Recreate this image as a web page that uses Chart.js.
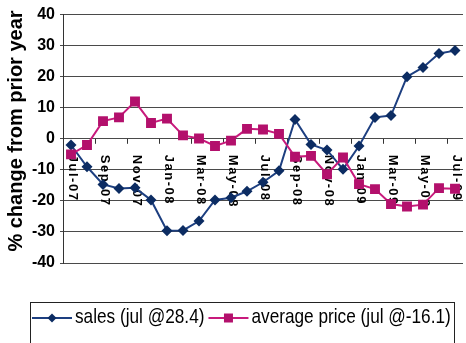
<!DOCTYPE html>
<html>
<head>
<meta charset="utf-8">
<script src="https://cdn.jsdelivr.net/npm/chart.js@4/dist/chart.umd.min.js"></script>
<style>
  html, body { margin: 0; padding: 0; background: #fff; overflow: hidden; }
  #wrap { width: 470px; height: 343px; }
</style>
</head>
<body>
<div id="wrap"><canvas id="chartSales" width="470" height="343"></canvas></div>
<script>
// months, Jul-07 .. Jul-09 (labels shown every second month)
const months = ["Jul-07", "Aug-07", "Sep-07", "Oct-07", "Nov-07", "Dec-07",
                "Jan-08", "Feb-08", "Mar-08", "Apr-08", "May-08", "Jun-08",
                "Jul-08", "Aug-08", "Sep-08", "Oct-08", "Nov-08", "Dec-08",
                "Jan-09", "Feb-09", "Mar-09", "Apr-09", "May-09", "Jun-09", "Jul-09"];

// % change from prior year
const sales = [-2, -9, -14.7, -16, -15.8, -19.7, -29.6, -29.5, -26.5, -19.7, -19, -16.9,
               -14, -10.3, 6.2, -1.8, -3.6, -9.8, -2.3, 6.9, 7.5, 20, 23, 27.5, 28.4];
const avgPrice = [-5, -2, 5.7, 6.9, 12, 5.1, 6.5, 1.1, 0.1, -2.3, -0.6, 3.2,
                  3, 1.6, -5.8, -5.5, -11.4, -6, -14.6, -16.2, -21, -21.8, -21.2, -15.9, -16.1];

const yTicks = [-40, -30, -20, -10, 0, 10, 20, 30, 40];
const yTitle = "% change from prior year";

const SALES_LINE = "#1d3f80", SALES_MARK = "#0c2c62";
const PRICE_LINE = "#c81a7c", PRICE_MARK = "#b3106c";

// marcador simple para la leyenda
function drawMarker(ctx, style, x, y, r, color) {
    ctx.fillStyle = color;
    ctx.beginPath();
    if (style === "rectRot") {
        ctx.moveTo(x - r, y); ctx.lineTo(x, y - r);
        ctx.lineTo(x + r, y); ctx.lineTo(x, y + r);
    } else {
        ctx.rect(x - r, y - r, 2 * r, 2 * r);
    }
    ctx.closePath();
    ctx.fill();
}

const extras = {
    id: "extras",
    beforeDatasetsDraw(chart) {
        const { ctx, scales: { x, y } } = chart;
        const y0 = y.getPixelForValue(0);
        const step = x.getPixelForValue(1) - x.getPixelForValue(0);
        ctx.save();

        // tick marks under the zero line
        ctx.strokeStyle = "#333";
        ctx.lineWidth = 1;
        for (let i = 2; i < months.length; i += 2) {
            const xb = Math.round(x.getPixelForValue(i) - step / 2) + 0.5;
            ctx.beginPath();
            ctx.moveTo(xb, y0);
            ctx.lineTo(xb, y0 + 5);
            ctx.stroke();
        }

        // month labels, rotated clockwise
        ctx.font = 'bold 13px "Liberation Sans", Arial, sans-serif';
        ctx.letterSpacing = "1.5px";
        ctx.fillStyle = "#000";
        ctx.textAlign = "left";
        ctx.textBaseline = "middle";
        for (let i = 0; i < months.length; i += 2) {
            ctx.save();
            ctx.translate(x.getPixelForValue(i) + 2, y0 + 16);
            ctx.rotate(Math.PI / 2);
            ctx.fillText(months[i], 0, 0);
            ctx.restore();
        }
        ctx.restore();
    },
    afterDraw(chart) {
        const ctx = chart.ctx;
        ctx.save();

        // y axis title
        ctx.font = 'bold 20px "Liberation Sans", Arial, sans-serif';
        ctx.fillStyle = "#000";
        ctx.textAlign = "center";
        ctx.textBaseline = "middle";
        ctx.translate(16, 131);
        ctx.rotate(-Math.PI / 2);
        ctx.fillText(yTitle, 0, 0);
        ctx.restore();

        // legend box
        ctx.save();
        ctx.strokeStyle = "#222";
        ctx.lineWidth = 1;
        ctx.strokeRect(30.5, 302.5, 424, 60);

        // texto condensado
        const squeeze = 0.82;
        ctx.font = '21px "Liberation Sans", Arial, sans-serif';
        ctx.textBaseline = "middle";
        ctx.textAlign = "left";
        let lx = 32;
        const ly = 318;
        chart.data.datasets.slice().reverse().forEach(ds => {
            ctx.strokeStyle = ds.borderColor;
            ctx.lineWidth = 2;
            ctx.beginPath();
            ctx.moveTo(lx, ly);
            ctx.lineTo(lx + 40, ly);
            ctx.stroke();
            drawMarker(ctx, ds.pointStyle, lx + 20, ly, 4.5, ds.pointBackgroundColor);
            lx += 43;
            ctx.fillStyle = "#000";
            ctx.save();
            ctx.translate(lx, ly - 1);
            ctx.scale(squeeze, 1);
            ctx.fillText(ds.label, 0, 0);
            ctx.restore();
            lx += ctx.measureText(ds.label).width * squeeze + 4;
        });
        ctx.restore();
    }
};

const canvas = document.getElementById("chartSales");
new Chart(canvas, {
    type: "line",
    data: {
        labels: months,
        datasets: [{
            label: "average price (jul @-16.1)",
            data: avgPrice,
            borderColor: PRICE_LINE,
            borderWidth: 2,
            pointStyle: "rect",
            pointRadius: 7,
            pointBackgroundColor: PRICE_MARK,
            pointBorderColor: PRICE_MARK,
            pointBorderWidth: 0,
            tension: 0
        }, {
            label: "sales (jul @28.4)",
            data: sales,
            borderColor: SALES_LINE,
            borderWidth: 2,
            pointStyle: "rectRot",
            pointRadius: 5.5,
            pointBackgroundColor: SALES_MARK,
            pointBorderColor: SALES_MARK,
            pointBorderWidth: 0,
            tension: 0
        }]
    },
    options: {
        responsive: false,
        animation: false,
        layout: { padding: { top: 12, bottom: 80, right: 0, left: 0 } },
        plugins: {
            legend: { display: false },
            tooltip: { enabled: false }
        },
        scales: {
            x: { display: false, offset: true },
            y: {
                min: -40,
                max: 40,
                afterBuildTicks: s => { s.ticks = yTicks.map(v => ({ value: v })); },
                afterFit: s => { s.width = 63; },
                ticks: {
                    color: "#000",
                    padding: 5,
                    font: { family: '"Liberation Sans", Arial, sans-serif', size: 16, weight: "bold" }
                },
                grid: { color: "#4a4a4a", tickLength: 3 },
                border: { color: "#333" }
            }
        }
    },
    plugins: [extras]
});
</script>
</body>
</html>
